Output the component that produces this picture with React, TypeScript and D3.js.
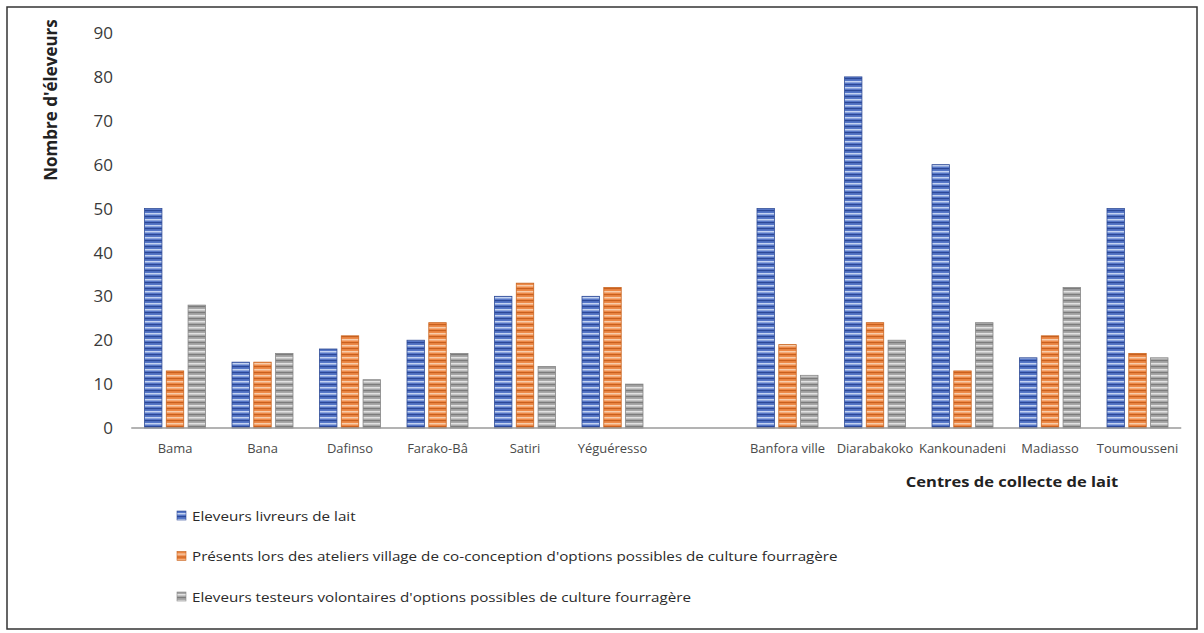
import React from "react";
import * as d3 from "d3";

const categories = [
  "Bama", "Bana", "Dafinso", "Farako-Bâ", "Satiri", "Yéguéresso", "",
  "Banfora ville", "Diarabakoko", "Kankounadeni", "Madiasso", "Toumousseni",
];
const livreurs = [50, 15, 18, 20, 30, 30, null, 50, 80, 60, 16, 50];
const presents = [13, 15, 21, 24, 33, 32, null, 19, 24, 13, 21, 17];
const testeurs = [28, 17, 11, 17, 14, 10, null, 12, 20, 24, 32, 16];
const seriesNames = [
  "Eleveurs livreurs de lait",
  "Présents lors des ateliers village de co-conception d'options possibles de culture fourragère",
  "Eleveurs testeurs volontaires d'options possibles de culture fourragère",
];
const yTicks = [0, 10, 20, 30, 40, 50, 60, 70, 80, 90];

const palettes = [
  { id: "pBlue", base: "#5677c8", dark: "#2c4898", light: "#c4d3f1", edge: "#2f4b96" },
  { id: "pOrange", base: "#ee8a48", dark: "#c9601e", light: "#f8cdab", edge: "#c8641f" },
  { id: "pGray", base: "#a8a8a8", dark: "#7c7c7c", light: "#e2e2e2", edge: "#858585" },
];

export default function App() {
  const W = 1204, H = 633;
  const x = d3.scaleBand<string>().domain(categories.map((c, i) => i + "")).range([131.25, 1181.25]);
  const keys = ["a", "b", "c"];
  const bw = x.bandwidth();
  const xi = d3.scaleBand<string>().domain(keys).range([bw / 2 - 30.5, bw / 2 + 30.5]).paddingInner(0.2);
  const y = d3.scaleLinear().domain([0, 90]).range([428, 33]);
  const data = [livreurs, presents, testeurs];
  const font = "'Open Sans', 'DejaVu Sans', sans-serif";

  return (
    <svg width={W} height={H} style={{ position: "absolute", left: 0, top: 0, background: "#fff" }}>
      <defs>
        {palettes.map((p) => (
          <pattern key={p.id} id={p.id} patternUnits="userSpaceOnUse" width={8} height={6}>
            <rect width={8} height={6} fill={p.base} />
            <rect y={0} width={8} height={1.2} fill={p.dark} />
            <rect y={3} width={8} height={1.5} fill={p.light} />
          </pattern>
        ))}
      </defs>
      <rect x={7} y={7} width={1190} height={622} fill="#fff" stroke="#333" strokeWidth={1.5} />
      <text
        transform="translate(57,100) rotate(-90)"
        textAnchor="middle"
        fontFamily={font}
        fontWeight="bold"
        fontSize={17}
        fill="#222"
      >
        Nombre d'éleveurs
      </text>
      {yTicks.map((t) => (
        <text key={t} x={113} y={y(t)} dy="0.36em" textAnchor="end" fontFamily={font} fontSize={17} fill="#3a3a3a">
          {t}
        </text>
      ))}
      {categories.map((c, i) =>
        data.map((vals, s) => {
          const v = vals[i];
          if (v == null) return null;
          const bx = (x(i + "") as number) + (xi(keys[s]) as number);
          return (
            <rect
              key={c + s}
              x={bx}
              y={y(v)}
              width={xi.bandwidth()}
              height={y(0) - y(v)}
              fill={`url(#${palettes[s].id})`}
              stroke={palettes[s].edge}
              strokeWidth={0.8}
            />
          );
        })
      )}
      <line x1={131.25} x2={1181.25} y1={y(0)} y2={y(0)} stroke="#9a9a9a" strokeWidth={1.5} />
      {categories.map((c, i) =>
        c ? (
          <text
            key={c}
            transform={`translate(${(x(i + "") as number) + bw / 2},453) scale(1.08,1)`}
            textAnchor="middle"
            fontFamily={font}
            fontSize={12}
            fill="#4a4a4a"
          >
            {c}
          </text>
        ) : null
      )}
      <text
        transform="translate(1012,487) scale(1.18,1)"
        textAnchor="middle"
        fontFamily={font}
        fontWeight="bold"
        fontSize={14}
        fill="#222"
      >
        Centres de collecte de lait
      </text>
      {seriesNames.map((n, s) => (
        <g key={n} transform={`translate(177,${516 + s * 40.5})`}>
          <rect x={0} y={-5} width={9} height={9} fill={`url(#${palettes[s].id})`} stroke={palettes[s].edge} strokeWidth={0.6} />
          <text transform="translate(15,0) scale(1.17,1)" dy="0.36em" fontFamily={font} fontSize={13} fill="#2a2a2a">
            {n}
          </text>
        </g>
      ))}
    </svg>
  );
}
